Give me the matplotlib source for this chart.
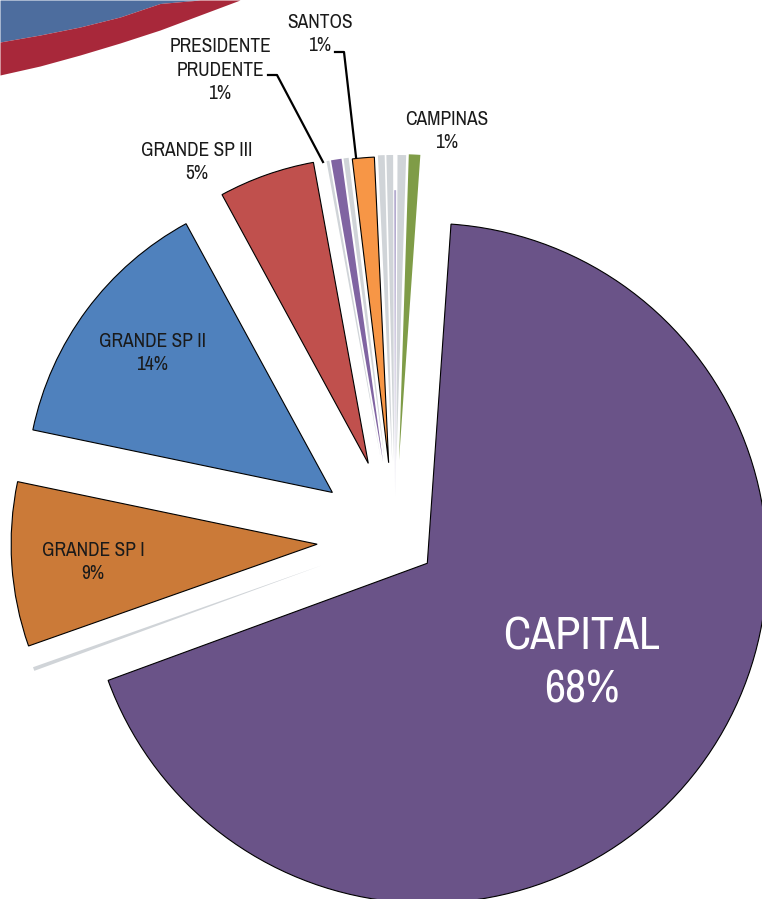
import numpy as np
import matplotlib.pyplot as plt

plt.rcParams['font.family'] = ['Archivo Narrow', 'Liberation Sans']

# fatias em sentido horario a partir de ~86 graus
regioes = ['CAPITAL', 'outra1', 'GRANDE SP I', 'GRANDE SP II', 'GRANDE SP III',
           'outra2', 'PRESIDENTE PRUDENTE', 'outra3', 'SANTOS',
           'outra4', 'outra5', 'outra6', 'outra7', 'CAMPINAS']
valores = [68.1, 0.2, 8.65, 13.75, 5.05,
           0.15, 0.55, 0.27, 1.15,
           0.35, 0.35, 0.1, 0.45, 0.6]
cores = ['#6A5388', '#D0D4D8', '#CB7A38', '#4F81BD', '#C0504D',
         '#D0D4D8', '#8064A2', '#D0D4D8', '#F79646',
         '#D0D4D8', '#D0D4D8', '#B4ABCF', '#D0D4D8', '#7F9C47']
explode = [0.132, 0.255, 0.255, 0.255, 0.262,
           0.255, 0.255, 0.255, 0.25,
           0.255, 0.255, 0.14, 0.255, 0.258]
com_borda = ['CAPITAL', 'GRANDE SP I', 'GRANDE SP II', 'GRANDE SP III', 'SANTOS']

rotulos = ['CAPITAL\n68%', 'GRANDE SP I\n9%', 'GRANDE SP II\n14%', 'GRANDE SP III\n5%',
           'PRESIDENTE\nPRUDENTE\n1%', 'SANTOS\n1%', 'CAMPINAS\n1%']

W, H = 762, 899
CX, CY, R = 395, 539, 306.0


def px(x, y):
    # pixel da imagem -> coordenadas do grafico
    return (x - CX) / R, (CY - y) / R


fig = plt.figure(figsize=(7.62, 8.99), dpi=100)
ax = fig.add_axes([0, 0, 1, 1])

# enfeite no canto superior esquerdo
xs = np.array([0, 40, 80, 120, 160, 200, 240])
y_baixo = np.array([75, 66, 55, 43, 30, 15, 0])
y_meio = np.interp(xs, [0, 40, 80, 120, 150, 170, 240], [42, 35, 27, 17, 7, 0, 0])
x0, yb = px(xs, y_baixo)
_, ym = px(xs, y_meio)
_, ytop = px(xs, np.zeros_like(xs))
ax.fill_between(x0, ym, ytop, color='#4D6D9E', lw=0)
ax.fill_between(x0, yb, ym, color='#A8283A', lw=0)

wedges, _ = ax.pie(valores, colors=cores, explode=explode, startangle=86,
                   counterclock=False, radius=1,
                   wedgeprops=dict(linewidth=0))
wedges[0].set_radius(340 / R)
for w, nome in zip(wedges, regioes):
    if nome in com_borda:
        w.set_edgecolor('black')
        w.set_linewidth(0.8)

# rotulos
pos = [(582, 663), (93, 562), (152, 353), (197, 162), (220, 70), (320, 34), (447, 131)]
for txt, (x, y) in zip(rotulos, pos):
    if txt.startswith('CAPITAL'):
        ax.text(*px(x, y), txt, ha='center', va='center', color='white',
                fontsize=33, linespacing=1.33)
    else:
        ax.text(*px(x, y), txt, ha='center', va='center', color='#1a1a1a',
                fontsize=14, linespacing=1.3)

# linhas de chamada
for lx, ly in [([335, 344, 356], [52, 52, 157]), ([268, 277, 323], [75, 75, 162])]:
    a, b = px(np.array(lx), np.array(ly))
    ax.plot(a, b, color='black', lw=1.6)

ax.set_xlim(px(0, 0)[0], px(W, 0)[0])
ax.set_ylim(px(0, H)[1], px(0, 0)[1])
ax.set_aspect('equal')
ax.axis('off')

fig.savefig('out.png', dpi=100)
